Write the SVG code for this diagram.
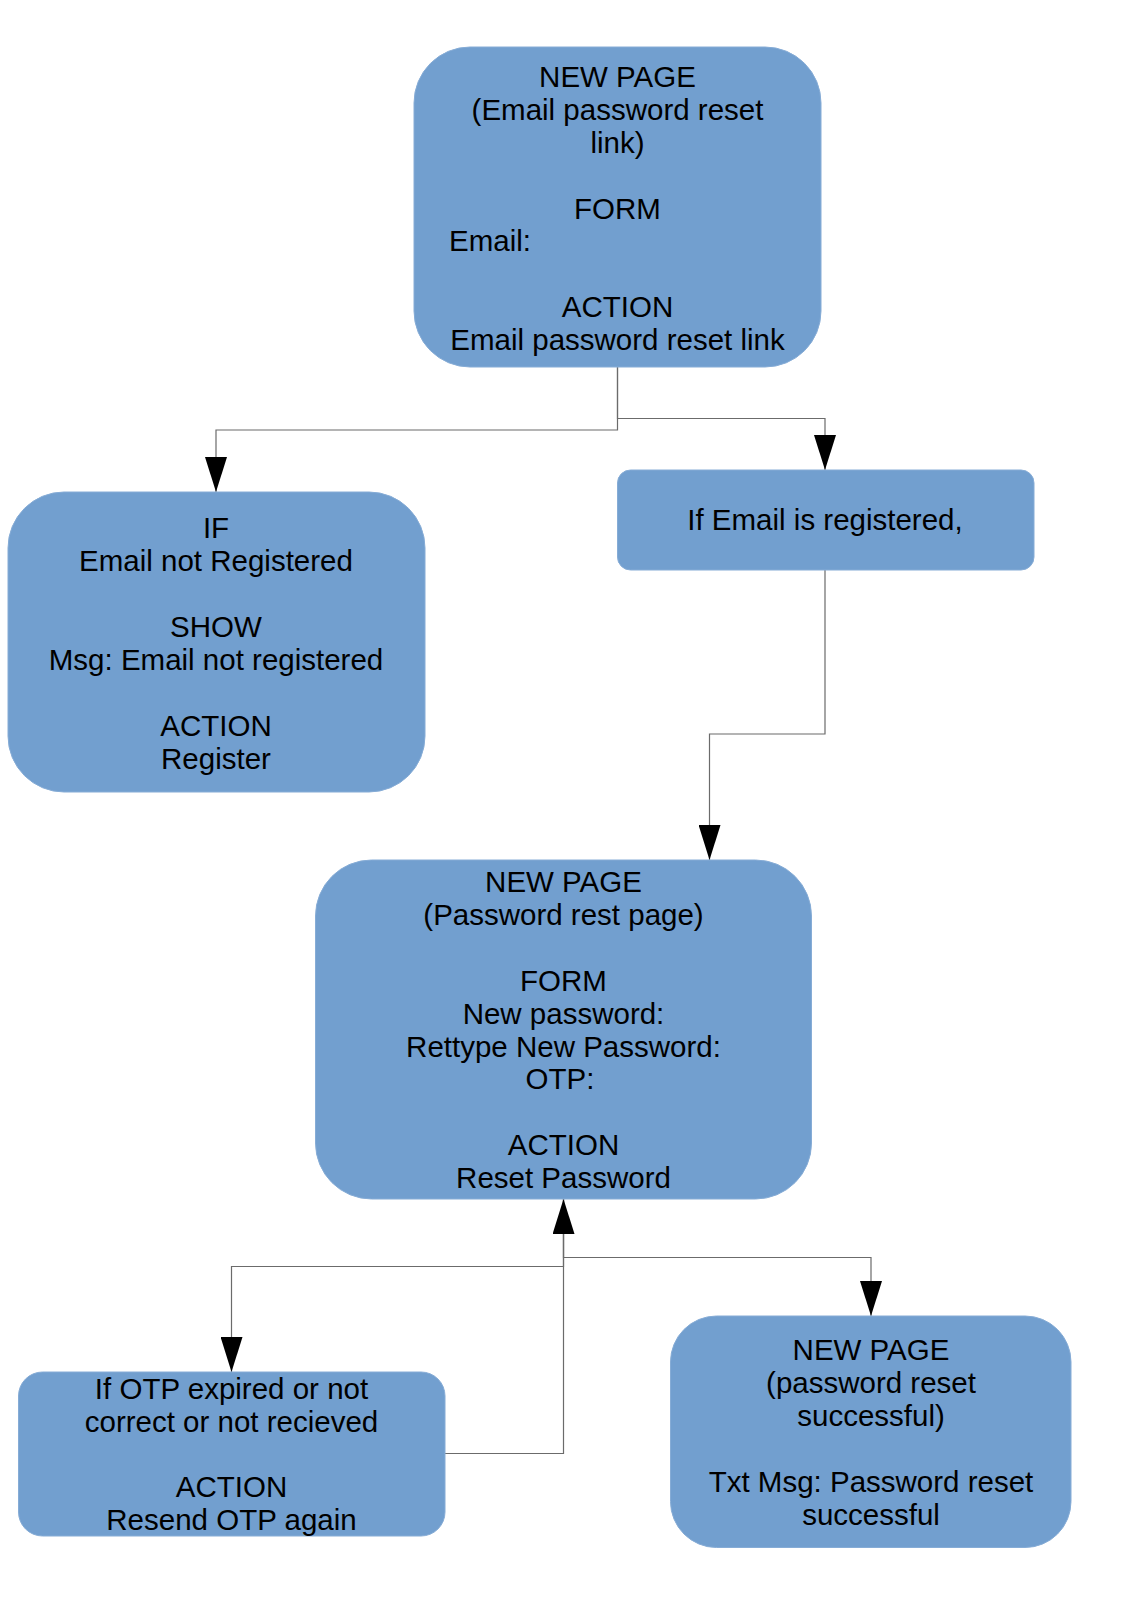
<svg xmlns="http://www.w3.org/2000/svg" width="1127" height="1600" viewBox="0 0 1127 1600">
  <defs>
    <style>
      .box { fill: #729fcf; stroke: #86acd6; stroke-width: 1; }
      .lbl { font-family: "Liberation Sans", Arial, sans-serif; font-size: 29.5px; fill: #000; text-anchor: middle; }
      .left { text-anchor: start; }
      .wire { fill: none; stroke: #6b6b6b; stroke-width: 1.2; }
    </style>
    <marker id="arrowDown" viewBox="0 0 22 35" refX="11" refY="35" markerWidth="22" markerHeight="35" markerUnits="userSpaceOnUse" orient="0">
      <path d="M0,0 L22,0 L11,35 Z" fill="#000"/>
    </marker>
    <marker id="arrowUp" viewBox="0 0 22 35" refX="11" refY="0" markerWidth="22" markerHeight="35" markerUnits="userSpaceOnUse" orient="0">
      <path d="M11,0 L22,35 L0,35 Z" fill="#000"/>
    </marker>
  </defs>
  <rect width="1127" height="1600" fill="#ffffff"/>

  <!-- connectors -->
  <g id="connectors">
    <path class="wire" d="M617.5,367 V430 H216 V492" marker-end="url(#arrowDown)"/>
    <path class="wire" d="M617.5,367 V418.5 H825 V470" marker-end="url(#arrowDown)"/>
    <path class="wire" d="M825,570 V734 H709.5 V860" marker-end="url(#arrowDown)"/>
    <path class="wire" d="M563.5,1199 V1266.5 H231.5 V1372" marker-end="url(#arrowDown)"/>
    <path class="wire" d="M563.5,1199 V1257.5 H871 V1316" marker-end="url(#arrowDown)"/>
    <path class="wire" d="M445,1453.5 H563.5 V1199" marker-end="url(#arrowUp)"/>
  </g>

  <!-- email reset link page -->
  <g id="node-email-page">
    <rect class="box" x="414" y="47" width="407" height="320" rx="56" ry="56"/>
    <text class="lbl" x="617.5" y="86.5">NEW PAGE</text>
    <text class="lbl" x="617.5" y="119.5">(Email password reset</text>
    <text class="lbl" x="617.5" y="152.5">link)</text>
    <text class="lbl" x="617.5" y="218.5">FORM</text>
    <text class="lbl left" x="449" y="251">Email:</text>
    <text class="lbl" x="617.5" y="317">ACTION</text>
    <text class="lbl" x="617.5" y="350">Email password reset link</text>
  </g>

  <!-- email not registered -->
  <g id="node-not-registered">
    <rect class="box" x="8" y="492" width="417" height="300" rx="56" ry="56"/>
    <text class="lbl" x="216" y="537.5">IF</text>
    <text class="lbl" x="216" y="570.5">Email not Registered</text>
    <text class="lbl" x="216" y="636.5">SHOW</text>
    <text class="lbl" x="216" y="669.5">Msg: Email not registered</text>
    <text class="lbl" x="216" y="735.5">ACTION</text>
    <text class="lbl" x="216" y="768.5">Register</text>
  </g>

  <!-- email registered -->
  <g id="node-registered">
    <rect class="box" x="617.5" y="470" width="416.5" height="100" rx="13" ry="13"/>
    <text class="lbl" x="825" y="529.5">If Email is registered,</text>
  </g>

  <!-- password reset page -->
  <g id="node-reset-page">
    <rect class="box" x="315.5" y="860" width="496" height="339" rx="56" ry="56"/>
    <text class="lbl" x="563.5" y="892">NEW PAGE</text>
    <text class="lbl" x="563.5" y="925">(Password rest page)</text>
    <text class="lbl" x="563.5" y="991">FORM</text>
    <text class="lbl" x="563.5" y="1024">New password:</text>
    <text class="lbl" x="563.5" y="1056.5">Rettype New Password:</text>
    <text class="lbl" x="560" y="1089">OTP:</text>
    <text class="lbl" x="563.5" y="1154.5">ACTION</text>
    <text class="lbl" x="563.5" y="1187.5">Reset Password</text>
  </g>

  <!-- otp problem -->
  <g id="node-otp-resend">
    <rect class="box" x="18.5" y="1372" width="426.5" height="164" rx="24" ry="24"/>
    <text class="lbl" x="231.5" y="1399">If OTP expired or not</text>
    <text class="lbl" x="231.5" y="1432">correct or not recieved</text>
    <text class="lbl" x="231.5" y="1497">ACTION</text>
    <text class="lbl" x="231.5" y="1530">Resend OTP again</text>
  </g>

  <!-- reset success page -->
  <g id="node-reset-success">
    <rect class="box" x="670.5" y="1316" width="400.5" height="231.5" rx="46" ry="46"/>
    <text class="lbl" x="871" y="1360">NEW PAGE</text>
    <text class="lbl" x="871" y="1393">(password reset</text>
    <text class="lbl" x="871" y="1425.5">successful)</text>
    <text class="lbl" x="871" y="1491.5">Txt Msg: Password reset</text>
    <text class="lbl" x="871" y="1524.5">successful</text>
  </g>
</svg>
